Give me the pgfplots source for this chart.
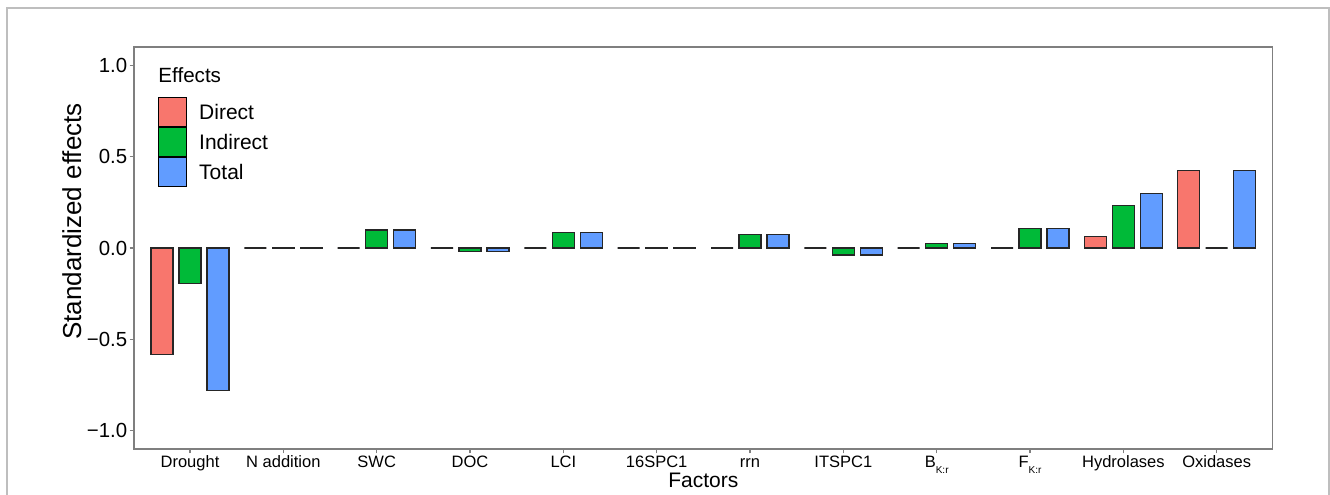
\documentclass[border=0pt]{standalone}
\usepackage{fontspec}
\setmainfont{Liberation Sans}
\usepackage{pgfplots}
\pgfplotsset{compat=1.18}
\definecolor{cDirect}{HTML}{F8766D}
\definecolor{cIndirect}{HTML}{00BA38}
\definecolor{cTotal}{HTML}{619CFF}
\definecolor{panelgray}{HTML}{7F7F7F}
\definecolor{framegray}{HTML}{BEBEBE}
\newcommand{\sub}[1]{\raisebox{-0.6ex}{\fontsize{5}{5}\selectfont #1}}
\begin{document}
\begin{tikzpicture}[x=1pt,y=1pt]
\useasboundingbox (0,0) rectangle (665,247);
\draw[framegray, line width=0.9pt] (3.5,-20) rectangle (664.3,242.8);
\begin{axis}[
  at={(67pt,22.5pt)}, anchor=south west,
  scale only axis, width=569.35pt, height=201pt,
  xmin=0.4, xmax=12.6, ymin=-1.1, ymax=1.1,
  ybar, bar width=0.236,
  axis line style={panelgray, line width=0.6pt},
  every tick/.style={panelgray, line width=0.6pt},
  tick align=outside, major tick length=2.2pt,
  xtick pos=left, ytick pos=left,
  xtick={1,2,3,4,5,6,7,8,9,10,11,12},
  xticklabels={Drought, N addition, SWC, DOC, LCI, 16SPC1, rrn, ITSPC1, {B\sub{K:r}}, {F\sub{K:r}}, Hydrolases, Oxidases},
  ytick={-1,-0.5,0,0.5,1},
  yticklabels={−1.0,−0.5,0.0,0.5,1.0},
  xticklabel style={font=\fontsize{8.25}{10}\selectfont, anchor=north, inner sep=0pt, text height=6pt, text depth=1.5pt},
  xticklabel shift=1pt,
  yticklabel style={font=\fontsize{10.2}{12}\selectfont, anchor=east, inner sep=0pt},
  yticklabel shift=1pt,
  xlabel={Factors},
  ylabel={Standardized effects},
  xlabel style={at={(axis description cs:0.5,-0.097)}, anchor=base, font=\fontsize{10.5}{12}\selectfont, inner sep=0pt},
  ylabel style={at={(axis description cs:-0.0545,0.566)}, anchor=center, font=\fontsize{13}{15}\selectfont, inner sep=0pt},
  legend style={at={(axis description cs:0.0211,0.8756)}, anchor=north west, draw=none, fill=none, inner sep=0pt, outer sep=0pt, row sep=0pt, font=\fontsize{10.5}{12}\selectfont, nodes={inner sep=0pt}, /tikz/every odd column/.style={column sep=6pt}},
  legend cell align=left,
  legend image code/.code={\draw[#1, draw=black, line width=0.6pt] (0pt,-6.45pt) rectangle (14pt,7.95pt);},
]
\addplot[fill=cDirect, draw=black!85, line width=0.6pt, bar shift=-0.3] coordinates {
(1,-0.585) (2,0) (3,0) (4,0) (5,0) (6,0) (7,0) (8,0) (9,0) (10,0) (11,0.065) (12,0.425)};
\addplot[fill=cIndirect, draw=black!85, line width=0.6pt, bar shift=0] coordinates {
(1,-0.193) (2,0.003) (3,0.098) (4,-0.018) (5,0.085) (6,0.001) (7,0.072) (8,-0.038) (9,0.026) (10,0.105) (11,0.233) (12,0)};
\addplot[fill=cTotal, draw=black!85, line width=0.6pt, bar shift=0.3] coordinates {
(1,-0.778) (2,0.003) (3,0.098) (4,-0.018) (5,0.085) (6,0.001) (7,0.072) (8,-0.038) (9,0.026) (10,0.105) (11,0.299) (12,0.425)};
\legend{Direct, Indirect, Total}
\node[anchor=base west, font=\fontsize{10.3}{12}\selectfont, inner sep=0pt] at (axis description cs:0.0211,0.911) {Effects};
\end{axis}
\end{tikzpicture}
\end{document}
